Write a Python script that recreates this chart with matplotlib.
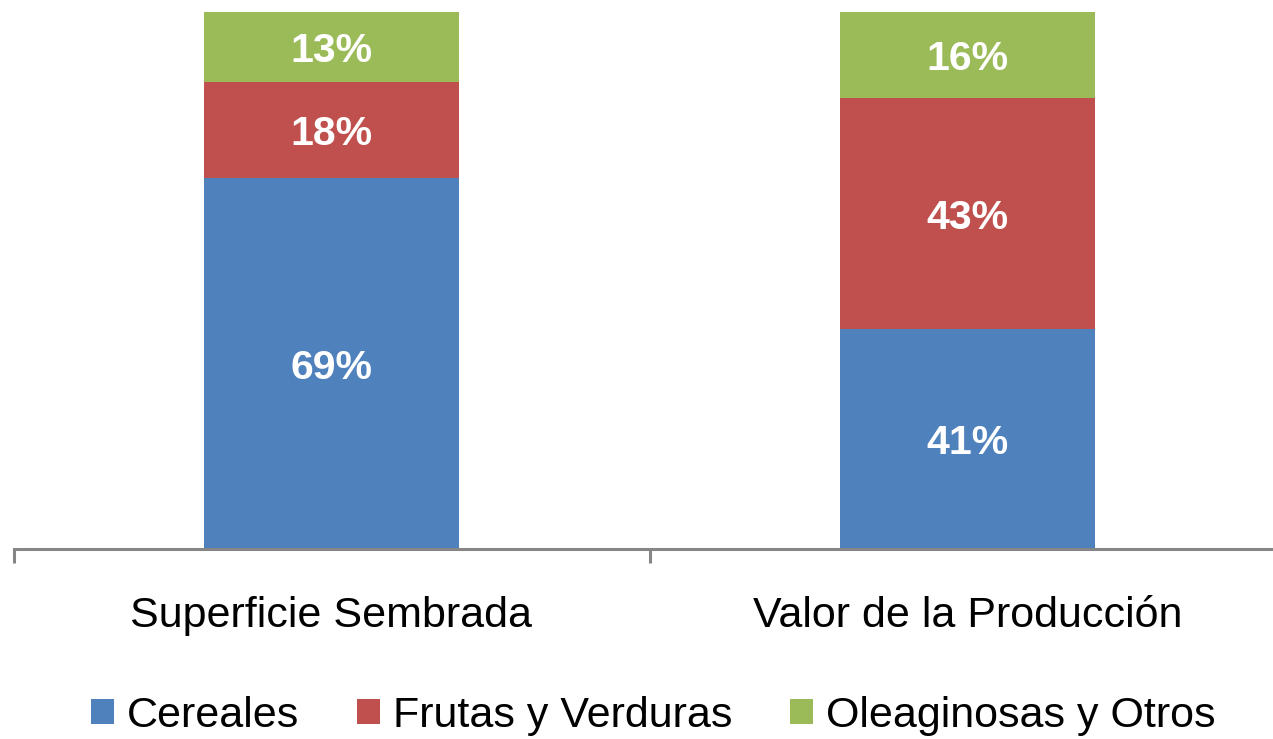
import matplotlib
matplotlib.use("Agg")
import matplotlib.pyplot as plt
from matplotlib.patches import Patch

categories = ["Superficie Sembrada", "Valor de la Producción"]
series_names = ["Cereales", "Frutas y Verduras", "Oleaginosas y Otros"]
cereales = [69, 41]
frutas = [18, 43]
oleaginosas = [13, 16]
colors = ["#4F81BD", "#C0504D", "#9BBB59"]

plt.rcParams['font.family'] = ['Liberation Sans', 'DejaVu Sans']

fig = plt.figure(figsize=(12.73, 7.39), dpi=100)
ax = fig.add_axes([13.5/1273, 190/739, 1272/1273, 537/739])

x = list(range(len(categories)))
bottom = [0, 0]
for vals, col in zip([cereales, frutas, oleaginosas], colors):
    ax.bar(x, vals, width=0.4, bottom=bottom, color=col, edgecolor='none')
    for xi, v, b in zip(x, vals, bottom):
        ax.text(xi, b + v / 2 - 0.8, f"{v}%", ha='center', va='center', color='white',
                fontsize=29.5, fontweight='bold')
    bottom = [b + v for b, v in zip(bottom, vals)]

ax.set_xlim(-0.5, 1.5)
ax.set_ylim(0, 100)
for s in ['top', 'right', 'left']:
    ax.spines[s].set_visible(False)
ax.spines['bottom'].set_color('#868686')
ax.spines['bottom'].set_linewidth(2.2)
ax.set_yticks([])
ax.set_xticks([-0.5, 0.5, 1.5], minor=False)
ax.set_xticklabels([])
ax.tick_params(axis='x', which='major', length=10, width=2.2, color='#868686')
for xi, c in zip(x, categories):
    ax.text(xi, -0.125, c, transform=ax.get_xaxis_transform(), ha='center', va='center',
            fontsize=31)

handles = [Patch(facecolor=c, edgecolor='none') for c in colors]
fig.legend(handles, series_names, loc='center', bbox_to_anchor=(0.513, 1 - 716/739),
           ncol=3, frameon=False, fontsize=31, handlelength=0.53, handleheight=0.53,
           handletextpad=0.3, columnspacing=1.35, borderpad=0, borderaxespad=0)

fig.savefig("out.png", dpi=100)
